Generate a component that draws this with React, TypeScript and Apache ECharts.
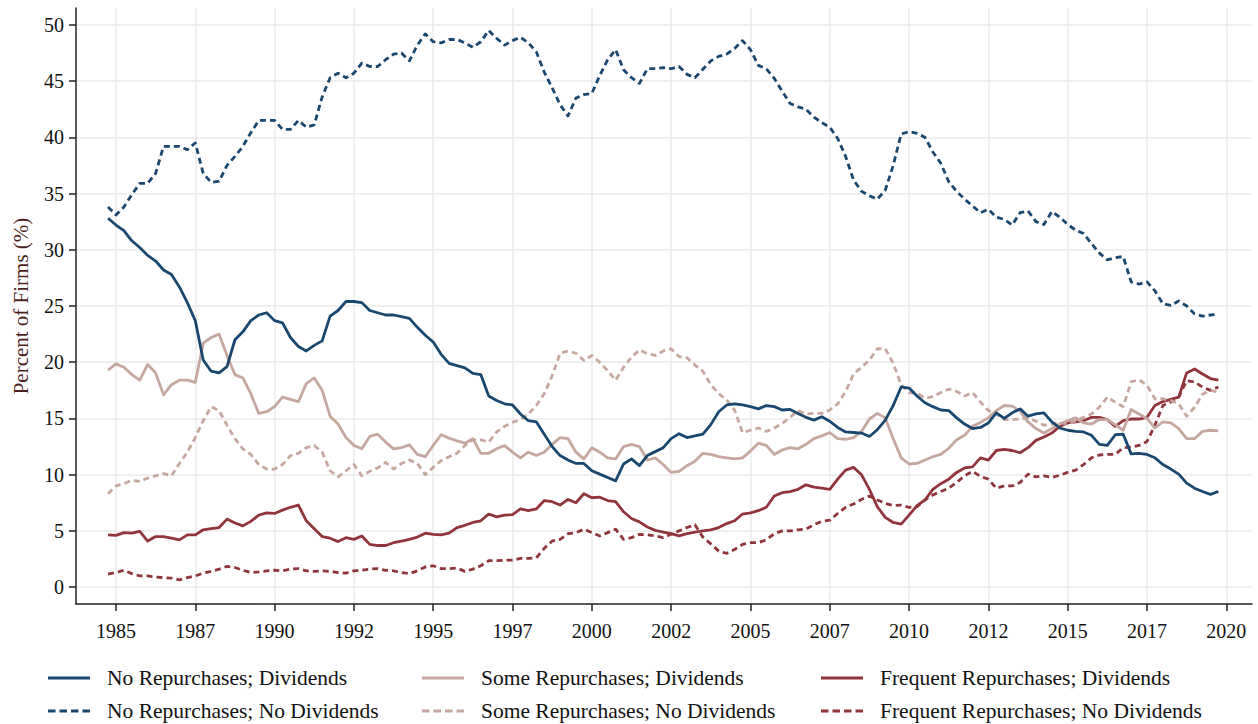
import React, { useEffect, useRef } from "react";
import * as echarts from "echarts";

// Quarterly observations, first quarter = 1984 Q4
const startQuarter = 1984.75;
const quarterStep = 0.25;

const xTickValues = [1985, 1987.5, 1990, 1992.5, 1995, 1997.5, 2000, 2002.5, 2005, 2007.5, 2010, 2012.5, 2015, 2017.5, 2020];
const yTickValues = [0, 5, 10, 15, 20, 25, 30, 35, 40, 45, 50];

const seriesNames = [
  "No Repurchases; Dividends",
  "No Repurchases; No Dividends",
  "Some Repurchases; Dividends",
  "Some Repurchases; No Dividends",
  "Frequent Repurchases; Dividends",
  "Frequent Repurchases; No Dividends",
];

const nrDiv = [
  32.8, 32.2, 31.7, 30.8, 30.2, 29.5, 29.0, 28.2, 27.8, 26.7,
  25.3, 23.7, 20.2, 19.2, 19.05, 19.6, 22.0, 22.7, 23.7, 24.2,
  24.4, 23.7, 23.5, 22.2, 21.4, 21.0, 21.5, 21.9, 24.1, 24.6,
  25.4, 25.4, 25.3, 24.6, 24.4, 24.2, 24.2,
  24.05, 23.9, 23.1, 22.4, 21.8, 20.7, 19.9, 19.7, 19.5, 19.0,
  18.9, 17.0, 16.6, 16.3, 16.2, 15.4, 14.8, 14.7, 13.6, 12.5,
  11.7, 11.3, 11.0, 11.0, 10.35, 10.05, 9.75, 9.45, 10.95, 11.4,
  10.8, 11.7, 12.05, 12.4, 13.2, 13.65,
  13.3, 13.45, 13.6, 14.45, 15.6, 16.2, 16.3, 16.2, 16.05, 15.85,
  16.15, 16.05, 15.75, 15.8, 15.45, 15.1, 14.85, 15.15, 14.75, 14.2,
  13.8, 13.75, 13.7, 13.4, 14.0, 14.85, 16.15, 17.8, 17.7, 17.0,
  16.4, 16.05, 15.75, 15.7, 15.05, 14.5, 14.1,
  14.2, 14.6, 15.5, 15.0, 15.5, 15.85, 15.2, 15.4, 15.5, 14.7,
  14.15, 13.95, 13.85, 13.8, 13.5, 12.7, 12.6, 13.55, 13.6, 11.85,
  11.9, 11.8, 11.5, 10.9, 10.5, 10.05, 9.25, 8.8, 8.5, 8.25, 8.5,
];

const nrNoDiv = [
  33.8, 33.1, 33.8, 34.9, 35.9, 35.9, 36.8, 39.2, 39.2, 39.2,
  38.9, 39.5, 36.8, 36.0, 36.1, 37.5, 38.3, 39.2, 40.4, 41.5,
  41.5, 41.5, 40.7, 40.7, 41.5, 40.9, 41.1, 43.6, 45.3, 45.7,
  45.3, 45.7, 46.6, 46.3, 46.3, 46.9, 47.4,
  47.5, 46.8, 48.2, 49.2, 48.5, 48.4, 48.7, 48.7, 48.4, 48.0,
  48.5, 49.5, 48.8, 48.2, 48.6, 48.9, 48.4, 47.6, 45.8, 44.4,
  42.9, 41.9, 43.5, 43.8, 43.9, 45.5, 46.9, 47.8, 46.0, 45.3,
  44.8, 46.1, 46.1, 46.2, 46.1, 46.3,
  45.6, 45.3, 46.05, 46.8, 47.2, 47.4, 47.9, 48.6, 47.8, 46.4,
  46.1, 45.25, 44.1, 43.0, 42.7, 42.5, 41.8, 41.3, 40.9, 39.9,
  38.3, 36.2, 35.2, 34.8, 34.5, 35.3, 37.5, 40.3, 40.5, 40.35,
  40.0, 38.7, 37.7, 36.05, 35.2, 34.5, 33.9,
  33.3, 33.6, 32.9, 32.7, 32.2, 33.3, 33.45, 32.5, 32.25, 33.4,
  32.9, 32.25, 31.75, 31.45, 30.55, 29.7, 29.1, 29.3, 29.4, 27.15,
  26.95, 27.15, 26.35, 25.2, 25.05, 25.45, 25.0, 24.3, 24.1, 24.2, 24.25,
];

const srDiv = [
  19.3, 19.85, 19.55, 18.9, 18.4, 19.8, 19.05, 17.1, 18.0, 18.4,
  18.4, 18.2, 21.7, 22.2, 22.5, 20.6, 18.9, 18.6, 17.2, 15.45,
  15.6, 16.05, 16.9, 16.7, 16.5, 18.1, 18.6, 17.5, 15.2, 14.5,
  13.3, 12.6, 12.3, 13.4, 13.6, 12.9, 12.3,
  12.4, 12.65, 11.8, 11.6, 12.6, 13.55, 13.25, 13.0, 12.8, 13.2,
  11.9, 11.9, 12.3, 12.6, 12.0, 11.5, 12.0, 11.7, 12.0, 12.7,
  13.3, 13.2, 12.0, 11.4, 12.4, 12.0, 11.5, 11.4, 12.5, 12.7,
  12.5, 11.3, 11.5, 10.9, 10.2, 10.3,
  10.8, 11.2, 11.9, 11.8, 11.6, 11.5, 11.4, 11.5, 12.1, 12.8,
  12.6, 11.8, 12.2, 12.4, 12.3, 12.7, 13.2, 13.45, 13.75, 13.2,
  13.15, 13.3, 13.85, 14.95, 15.45, 15.05, 13.2, 11.5, 10.95, 11.0,
  11.3, 11.6, 11.8, 12.35, 13.1, 13.5, 14.3,
  14.65, 15.05, 15.7, 16.15, 16.1, 15.65, 14.7, 14.1, 13.7, 14.1,
  14.5, 14.8, 15.05, 14.6, 14.5, 14.9, 14.9, 14.45, 13.95, 15.8,
  15.4, 15.0, 14.15, 14.7, 14.6, 14.1, 13.2, 13.2, 13.85, 13.95, 13.9,
];

const srNoDiv = [
  8.3, 9.0, 9.2, 9.5, 9.4, 9.7, 9.9, 10.1, 9.9, 11.0,
  12.0, 13.3, 14.8, 16.05, 15.7, 14.4, 13.2, 12.3, 11.8, 10.9,
  10.5, 10.5, 10.9, 11.7, 11.9, 12.4, 12.6, 12.0, 10.35, 9.8,
  10.35, 10.9, 9.9, 10.3, 10.6, 11.1, 10.5,
  11.0, 11.3, 11.0, 10.0, 10.65, 11.25, 11.6, 11.9, 12.6, 13.1,
  13.1, 12.9, 13.8, 14.3, 14.65, 14.9, 15.4, 16.15, 17.2, 18.8,
  20.8, 21.0, 20.8, 20.15, 20.6, 20.0, 19.25, 18.4, 19.55, 20.45,
  21.1, 20.75, 20.6, 21.0, 21.2, 20.5,
  20.4, 19.75, 19.2, 18.0, 17.2, 16.65, 15.75, 13.75, 13.95, 14.15,
  13.85, 14.15, 14.55, 15.1, 15.7, 15.4, 15.45, 15.45, 15.75, 16.3,
  17.4, 18.95, 19.55, 20.2, 21.2, 21.2, 19.9, 18.0, 17.3, 17.25,
  16.8, 16.95, 17.3, 17.6, 17.4, 17.0, 17.3,
  16.45, 15.7, 15.4, 14.9, 14.9, 14.95, 15.05, 14.75, 14.4, 14.5,
  14.65, 14.5, 14.8, 15.1, 15.4, 16.0, 16.9, 16.45, 16.05, 18.25,
  18.45, 17.95, 16.75, 16.75, 16.6, 16.3, 15.2, 16.0, 17.15, 17.5, 17.35,
];

const frDiv = [
  4.65, 4.6, 4.85, 4.8, 4.95, 4.1, 4.5, 4.5, 4.35, 4.2,
  4.65, 4.65, 5.1, 5.2, 5.3, 6.05, 5.7, 5.45, 5.85, 6.4,
  6.6, 6.55, 6.85, 7.1, 7.3, 5.9, 5.2, 4.5, 4.35, 4.05,
  4.4, 4.25, 4.55, 3.8, 3.7, 3.7, 3.95,
  4.1, 4.25, 4.45, 4.8, 4.7, 4.65, 4.8, 5.3, 5.5, 5.75,
  5.9, 6.5, 6.25, 6.4, 6.45, 6.95, 6.8, 6.95, 7.7, 7.6,
  7.3, 7.8, 7.5, 8.3, 7.95, 8.0, 7.7, 7.6, 6.7, 6.1,
  5.8, 5.35, 5.05, 4.9, 4.75, 4.55,
  4.75, 4.9, 5.0, 5.1, 5.3, 5.65, 5.9, 6.5, 6.6, 6.8,
  7.1, 8.1, 8.4, 8.5, 8.7, 9.1, 8.9, 8.8, 8.7, 9.6,
  10.4, 10.65, 10.0, 8.7, 7.15, 6.2, 5.75, 5.6, 6.4, 7.25,
  7.75, 8.7, 9.2, 9.6, 10.2, 10.6, 10.7,
  11.5, 11.3, 12.15, 12.25, 12.15, 11.95, 12.4, 13.05, 13.35, 13.7,
  14.3, 14.6, 14.7, 14.8, 15.1, 15.1, 14.9, 14.3, 14.8, 14.95,
  14.95, 15.1, 16.15, 16.5, 16.7, 16.9, 19.05, 19.4, 18.95, 18.55, 18.4,
];

const frNoDiv = [
  1.15, 1.3, 1.5, 1.2, 1.0, 1.0, 0.9, 0.85, 0.8, 0.65,
  0.85, 1.0, 1.25, 1.4, 1.6, 1.85, 1.75, 1.5, 1.3, 1.35,
  1.45, 1.5, 1.45, 1.6, 1.65, 1.45, 1.4, 1.45, 1.4, 1.3,
  1.25, 1.45, 1.5, 1.6, 1.65, 1.5, 1.45,
  1.3, 1.2, 1.45, 1.8, 1.9, 1.65, 1.65, 1.7, 1.4, 1.6,
  1.9, 2.35, 2.35, 2.4, 2.4, 2.55, 2.55, 2.6, 3.45, 4.1,
  4.25, 4.75, 4.85, 5.15, 4.85, 4.55, 4.85, 5.15, 4.25, 4.4,
  4.7, 4.65, 4.55, 4.4, 4.7, 5.0,
  5.3, 5.55, 4.45, 3.85, 3.2, 3.0, 3.35, 3.8, 3.95, 3.95,
  4.2, 4.75, 5.0, 5.0, 5.1, 5.15, 5.55, 5.85, 5.95, 6.55,
  7.1, 7.4, 7.8, 8.1, 7.75, 7.45, 7.25, 7.3, 7.1, 7.15,
  7.75, 8.2, 8.5, 8.8, 9.3, 9.9, 10.3,
  9.85, 9.6, 8.8, 9.0, 9.0, 9.3, 10.05, 9.8, 9.9, 9.75,
  9.95, 10.2, 10.4, 10.9, 11.5, 11.75, 11.8, 11.8, 12.4, 12.45,
  12.6, 12.95, 14.4, 16.15, 16.45, 16.9, 18.35, 18.25, 17.8, 17.5, 17.8,
];

const seriesValues = [nrDiv, nrNoDiv, srDiv, srNoDiv, frDiv, frNoDiv];
const seriesColors = ["#1a476f", "#1a476f", "#c6a79f", "#c6a79f", "#90353b", "#90353b"];
const seriesDashed = [false, true, false, true, false, true];

const FONT = "'Liberation Serif', 'Times New Roman', 'DejaVu Serif', serif";

const SOLID_ICON = "path://M0,0H42V3H0Z";
const DASHED_ICON =
  "path://M0,0h7.5v3h-7.5z M11.5,0h7.5v3h-7.5z M23,0h7.5v3h-7.5z M34.5,0h7.5v3h-7.5z";

export default function App() {
  const ref = useRef<HTMLDivElement>(null);

  useEffect(() => {
    if (!ref.current) return;
    const chart = echarts.init(ref.current, undefined, { renderer: "svg" });

    const series = seriesNames.map((name, k) => ({
      name,
      type: "line",
      symbol: "none",
      showSymbol: false,
      z: 10 - k,
      data: seriesValues[k].map((v, i) => [startQuarter + i * quarterStep, v]),
      lineStyle: {
        color: seriesColors[k],
        width: 2.8,
        type: seriesDashed[k] ? [6, 4] : "solid",
        cap: "butt",
        join: "round",
      },
      itemStyle: { color: seriesColors[k] },
    }));

    const legendItem = (k: number) => ({
      name: seriesNames[k],
      icon: seriesDashed[k] ? DASHED_ICON : SOLID_ICON,
      itemStyle: { color: seriesColors[k], borderWidth: 0 },
    });

    const legendCommon = {
      orient: "vertical",
      top: 667,
      height: 70,
      padding: 0,
      itemWidth: 42,
      itemHeight: 3,
      itemGap: 11,
      selectedMode: false,
      textStyle: {
        fontFamily: FONT,
        fontSize: 21.5,
        color: "#111",
        lineHeight: 21,
        padding: [0, 0, 0, 12],
      },
    };

    chart.setOption({
      animation: false,
      backgroundColor: "#ffffff",
      textStyle: { fontFamily: FONT },
      grid: { left: 76, top: 8, width: 1176, height: 596, containLabel: false },
      legend: [
        { ...legendCommon, left: 48, data: [legendItem(0), legendItem(1)] },
        { ...legendCommon, left: 422, data: [legendItem(2), legendItem(3)] },
        { ...legendCommon, left: 821, data: [legendItem(4), legendItem(5)] },
      ],
      xAxis: {
        type: "value",
        min: 1983.74,
        max: 2020.81,
        axisLine: { show: true, onZero: false, lineStyle: { color: "#222", width: 1.5 } },
        axisTick: {
          show: true,
          customValues: xTickValues,
          length: 7,
          lineStyle: { color: "#222", width: 1.5 },
        },
        axisLabel: {
          customValues: xTickValues,
          formatter: (v: number) => String(Math.floor(v)),
          fontFamily: FONT,
          fontSize: 20,
          color: "#111",
          margin: 17,
        },
        splitLine: { show: true, lineStyle: { color: "#ebebeb", width: 1.5 } },
      },
      yAxis: {
        type: "value",
        min: -1.5,
        max: 51.5,
        name: "Percent of Firms (%)",
        nameLocation: "middle",
        nameRotate: 90,
        nameGap: 45,
        nameTextStyle: { fontFamily: FONT, fontSize: 21, color: "#4f1f1f" },
        axisLine: { show: true, onZero: false, lineStyle: { color: "#222", width: 1.5 } },
        axisTick: {
          show: true,
          customValues: yTickValues,
          length: 7,
          lineStyle: { color: "#222", width: 1.5 },
        },
        axisLabel: {
          customValues: yTickValues,
          fontFamily: FONT,
          fontSize: 20,
          color: "#111",
          margin: 12,
        },
        splitLine: { show: true, lineStyle: { color: "#ebebeb", width: 1.5 } },
      },
      series,
    });

    return () => chart.dispose();
  }, []);

  return (
    <div
      ref={ref}
      style={{ position: "absolute", left: 0, top: 0, width: 1258, height: 724, background: "#fff" }}
    />
  );
}
